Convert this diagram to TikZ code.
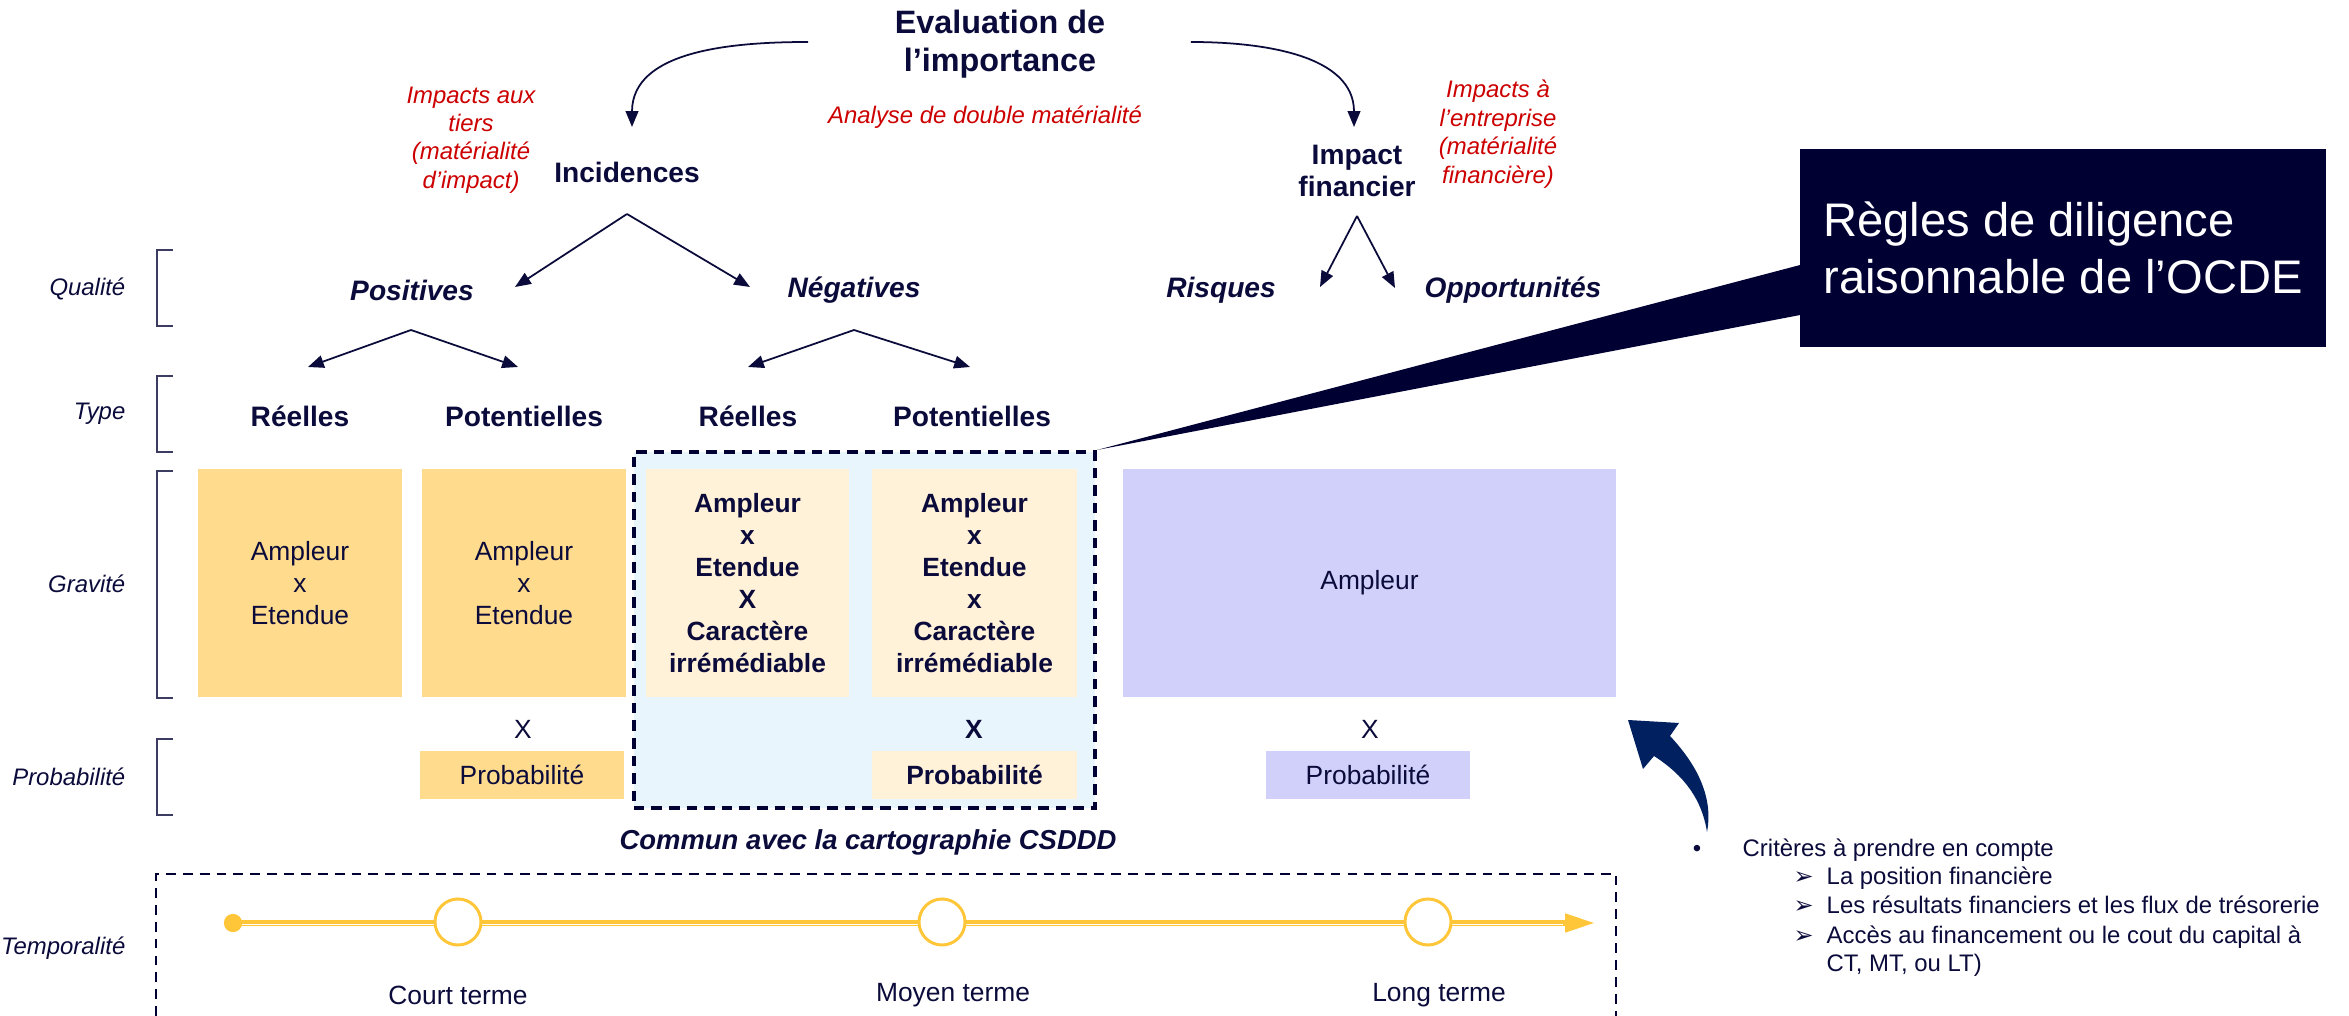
\documentclass[tikz,border=0pt]{standalone}
\usepackage{fontspec}
\setmainfont{Liberation Sans}
\newfontfamily\symbfont{DejaVu Sans}
\usetikzlibrary{arrows.meta,calc}
\definecolor{marine}{HTML}{0B0B3B}
\definecolor{nuit}{HTML}{000033}
\definecolor{bleufleche}{HTML}{002060}
\definecolor{rougetxt}{HTML}{CC0000}
\definecolor{jaune}{HTML}{FFDB8D}
\definecolor{creme}{HTML}{FFF2D9}
\definecolor{ciel}{HTML}{E9F5FD}
\definecolor{mauve}{HTML}{D0D0FA}
\definecolor{dore}{HTML}{FFC63A}
\tikzset{
  fleche/.style={draw=marine, line width=0.5pt, -{Triangle[length=4.5pt,width=3.6pt]}},
  titre/.style={text=marine, font=\fontsize{9.2}{10.8}\selectfont\bfseries, align=center, inner sep=0pt},
  niveau/.style={text=marine, font=\fontsize{8}{9}\selectfont\bfseries, align=center, inner sep=0pt},
  qual/.style={niveau, font=\fontsize{8}{9}\selectfont\bfseries\itshape},
  note/.style={text=rougetxt, font=\fontsize{6.8}{8.1}\selectfont\itshape, align=center, inner sep=0pt},
  etiq/.style={text=marine, font=\fontsize{6.8}{8}\selectfont\itshape, anchor=east, inner sep=0pt},
  boite/.style={fill=#1, minimum width=2.04cm, minimum height=2.28cm, align=center, inner sep=0pt,
    text=marine, font=\fontsize{7.5}{9.1}\selectfont},
  proba/.style={fill=#1, minimum width=2.04cm, minimum height=0.48cm, inner sep=0pt,
    text=marine, font=\fontsize{7.5}{9}\selectfont},
  crochet/.style={draw=marine!80, line width=0.5pt},
  commun/.style={draw=nuit, fill=ciel, line width=1.1pt, dash pattern=on 3pt off 2pt,
    minimum width=4.61cm, minimum height=3.56cm, inner sep=0pt},
  tempo/.style={draw=nuit, line width=0.7pt, dash pattern=on 2.8pt off 2pt},
  cercle/.style={circle, draw=dore, line width=0.85pt, fill=white, minimum size=0.46cm, inner sep=0pt},
  terme/.style={text=marine, font=\fontsize{7.5}{9}\selectfont, inner sep=0pt},
  ocde/.style={fill=nuit, text=white, font=\fontsize{13.4}{16.3}\selectfont, align=left,
    minimum width=5.26cm, minimum height=1.98cm, inner sep=0pt},
  puce/.style={text=marine, font=\fontsize{6.8}{8}\selectfont, anchor=base west, inner sep=0pt},
}
\begin{document}
\begin{tikzpicture}[x=0.01cm, y=-0.01cm]
\useasboundingbox (0,0) rectangle (2349,1016);

% en-tete
\node[titre] (eval) at (1000,44) {Evaluation de\\l’importance};
\node[note] (analyse) at (985,117) {Analyse de double matérialité};
\node[niveau] (inc) at (627,172) {Incidences};
\node[note] (tiers) at (471,140) {Impacts aux\\tiers\\(matérialité\\d’impact)};
\node[niveau] (fin) at (1357,171) {Impact\\financier};
\node[note] (entr) at (1498,134) {Impacts à\\l’entreprise\\(matérialité\\financière)};
\coordinate (eval-g) at ($(eval.west)+(-86,-2)$);
\coordinate (eval-d) at ($(eval.east)+(85,-2)$);
\coordinate (inc-h) at (632,127);
\coordinate (fin-h) at (1354,127);
\draw[fleche] (eval-g) to[out=180,in=90] (inc-h);
\draw[fleche] (eval-d) to[out=0,in=90] (fin-h);

% qualite et type
\node[qual] (pos) at (412,290) {Positives};
\node[qual] (neg) at (854,290) {Négatives};
\node[qual] (ris) at (1221,290) {Risques};
\node[qual] (opp) at (1513,290) {Opportunités};
\node[niveau] (pr) at (300,416) {Réelles};
\node[niveau] (pp) at (524,416) {Potentielles};
\node[niveau] (nr) at (748,416) {Réelles};
\node[niveau] (np) at (972,416) {Potentielles};
\coordinate (inc-b) at (627,214);
\coordinate (fin-b) at (1357,216);
\coordinate (pos-b) at (411,330);
\coordinate (neg-b) at (854,330);
\coordinate (pos-t) at (515,287);
\coordinate (neg-t) at (750,287);
\coordinate (ris-t) at (1320,287);
\coordinate (opp-t) at (1395,288);
\coordinate (pr-t) at (308,367);
\coordinate (pp-t) at (518,367);
\coordinate (nr-t) at (748,367);
\coordinate (np-t) at (970,367);
\foreach \a/\b in {inc-b/pos-t, inc-b/neg-t, fin-b/ris-t, fin-b/opp-t,
    pos-b/pr-t, pos-b/pp-t, neg-b/nr-t, neg-b/np-t}
  \draw[fleche] (\a) -- (\b);

% lignes de gauche
\foreach \h/\b in {250/326, 376/452, 471/698, 739/815}
  \draw[crochet] (173,\h) -| (157,\b) -- (173,\b);
\node[etiq] (lq) at (126,289) {Qualité};
\node[etiq] (lt) at (126,414) {Type};
\node[etiq] (lg) at (126,584) {Gravité};
\node[etiq] (lp) at (126,777) {Probabilité};
\node[etiq] (lm) at (126,948) {Temporalité};

% gravite et probabilite
\node[commun] (csddd) at (864.5,630) {};
\node[boite=jaune] (g1) at (300,583) {Ampleur\\x\\Etendue};
\node[boite=jaune] (g2) at (524,583) {Ampleur\\x\\Etendue};
\node[boite=creme, font=\fontsize{7.5}{9.1}\selectfont\bfseries, minimum width=2.03cm] (g3) at (747.5,583)
  {Ampleur\\x\\Etendue\\X\\Caractère\\irrémédiable};
\node[boite=creme, font=\fontsize{7.5}{9.1}\selectfont\bfseries, minimum width=2.05cm] (g4) at (974.5,583)
  {Ampleur\\x\\Etendue\\x\\Caractère\\irrémédiable};
\node[boite=mauve, minimum width=4.93cm] (g5) at (1369.5,583) {Ampleur};
\node[terme] (x2) at (523,729) {X};
\node[terme, font=\fontsize{7.5}{9}\selectfont\bfseries] (x4) at (974,729) {X};
\node[terme] (x5) at (1370,729) {X};
\node[proba=jaune] (p2) at (522,775) {Probabilité};
\node[proba=creme, minimum width=2.05cm, font=\fontsize{7.5}{9}\selectfont\bfseries] (p4) at (974.5,775) {Probabilité};
\node[proba=mauve] (p5) at (1368,775) {Probabilité};
\node[niveau, font=\fontsize{7.8}{9}\selectfont\bfseries\itshape] (cmn) at (868,842)
  {Commun avec la cartographie CSDDD};

% temporalite
\draw[tempo] (156,1016) |- (1616,874) -- (1616,1016);
\coordinate (t0) at (233,923);
\coordinate (t1) at (1595,923);
\draw[dore, line width=1.6pt, -{Triangle[length=8.5pt,width=5pt]}] (t0) -- (t1);
\draw[white, line width=0.3pt] ([yshift=-0.35pt]t0) -- ([xshift=-9pt,yshift=-0.35pt]t1);
\fill[dore] (t0) circle (2.6pt);
\node[cercle] (ct) at (458,922) {};
\node[cercle] (mt) at (942,922) {};
\node[cercle] (lt2) at (1428,922) {};
\node[terme] (lct) at (458,995) {Court terme};
\node[terme] (lmt) at (953,995) {Moyen terme};
\node[terme] (llt) at (1439,995) {Long terme};

% encadre OCDE
\node[ocde] (ocde) at (2063,248) {Règles de diligence\\raisonnable de l’OCDE};
\fill[nuit] ($(ocde.west)+(1,17)$) -- (csddd.north east) -- ($(ocde.west)+(1,67)$) -- cycle;

% fleche courbe et criteres
\fill[bleufleche] (1628,720) -- (1679,723) -- (1670,736)
  .. controls (1700,768) and (1713,800) .. (1707,832)
  .. controls (1702,800) and (1685,776) .. (1654,756) -- (1643,769) -- cycle;
\node[puce, anchor=base] (dot) at (1697,856) {•};
\node[puce] (c0) at (1742,856) {Critères à prendre en compte};
\foreach \y/\t in {884/La position financière,
    913/Les résultats financiers et les flux de trésorerie,
    943/Accès au financement ou le cout du capital à}{
  \node[puce] at (1793,\y) {\symbfont ➢};
  \node[puce] at (1826,\y) {\t};
}
\node[puce] (c4) at (1826,971) {CT, MT, ou LT)};
\end{tikzpicture}
\end{document}
